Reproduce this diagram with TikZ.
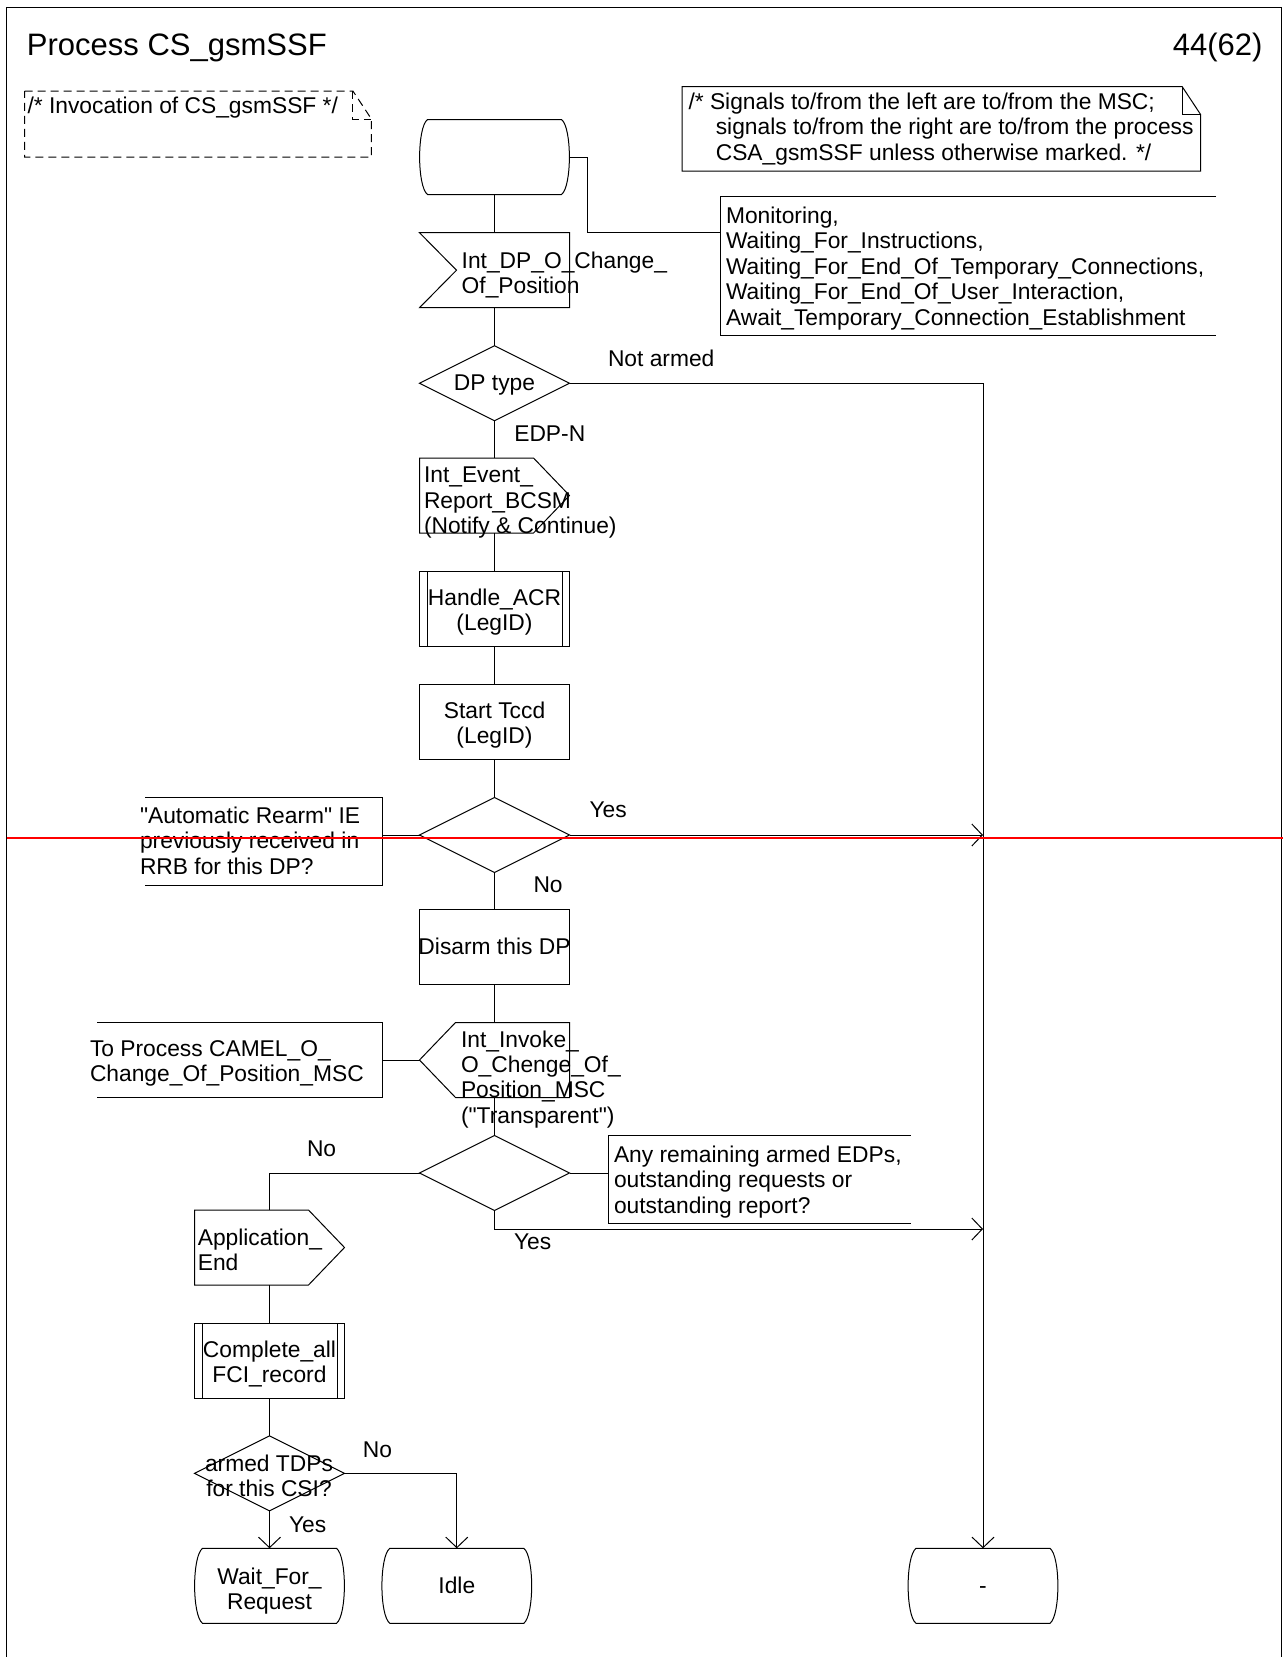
\documentclass[tikz,border=0pt]{standalone}
\usepackage{fontspec}
\setmainfont{Liberation Sans}[Ligatures=TeXOff]
\usetikzlibrary{shapes.geometric,arrows.meta,calc}
\newcommand\bodyfont{\fontsize{22.8pt}{25.4pt}\selectfont}
\newcommand\titlefont{\fontsize{31pt}{36pt}\selectfont}
\newcommand\fs{\rule{0pt}{18pt}}
\newcommand\sq{\char34\relax}
% SDL symbol outlines drawn round invisible rectangle nodes
\newcommand\SdlState[1]{\draw ($(#1.north west)+(8,0)$) -- ($(#1.north east)+(-8,0)$)
  .. controls ($(#1.north east)+(2.5,8)$) and ($(#1.south east)+(2.5,-8)$) .. ($(#1.south east)+(-8,0)$)
  -- ($(#1.south west)+(8,0)$)
  .. controls ($(#1.south west)+(-2.5,-8)$) and ($(#1.north west)+(-2.5,8)$) .. cycle;}
\newcommand\SdlInput[1]{\draw (#1.north west) -- (#1.north east) -- (#1.south east) -- (#1.south west) -- ($(#1.west)+(37,0)$) -- cycle;}
\newcommand\SdlOutR[1]{\draw (#1.north west) -- ($(#1.north east)+(-36,0)$) -- (#1.east) -- ($(#1.south east)+(-36,0)$) -- (#1.south west) -- cycle;}
\newcommand\SdlOutL[1]{\draw (#1.west) -- ($(#1.north west)+(36,0)$) -- (#1.north east) -- (#1.south east) -- ($(#1.south west)+(36,0)$) -- cycle;}
\newcommand\SdlProc[1]{\draw (#1.north west) rectangle (#1.south east);
  \draw ($(#1.north west)+(7.5,0)$) -- ($(#1.south west)+(7.5,0)$);
  \draw ($(#1.north east)+(-7.5,0)$) -- ($(#1.south east)+(-7.5,0)$);}
\newcommand\SdlCommR[1]{\draw (#1.north east) -- (#1.north west) -- (#1.south west) -- (#1.south east);}
\newcommand\SdlCommL[1]{\draw (#1.north west) -- (#1.north east) -- (#1.south east) -- (#1.south west);}
\newcommand\SdlNote[2]{\draw[#2] (#1.north west) -- ($(#1.north east)+(-18.5,0)$) -- ($(#1.north east)+(0,28)$) -- (#1.south east) -- (#1.south west) -- cycle;
  \draw[#2] ($(#1.north east)+(-18.5,0)$) -- ($(#1.north east)+(-18.5,28)$) -- ($(#1.north east)+(0,28)$);}
\begin{document}
\begin{tikzpicture}[x=1pt,y=-1pt,line width=1pt,
  sym/.style={rectangle,draw=none,inner sep=0,outer sep=0},
  box/.style={rectangle,draw,inner sep=0,outer sep=0,minimum width=150pt,minimum height=75pt},
  dia/.style={diamond,draw,aspect=2,inner sep=0,outer sep=0,minimum width=150pt,minimum height=75pt},
  tl/.style={inner sep=0,outer sep=0,font=\bodyfont,align=left,anchor=north west},
  tc/.style={inner sep=0,outer sep=0,font=\bodyfont,align=center,anchor=north},
  lb/.style={inner sep=0,outer sep=0,font=\bodyfont,anchor=base west},
  lbc/.style={inner sep=0,outer sep=0,font=\bodyfont,anchor=base},
  arr/.style={-{Straight Barb[length=10.5pt,width=22pt]}},
  notedash/.style={dash pattern=on 8pt off 5pt}]
\useasboundingbox (0,0) rectangle (1283,1657);
% frame
\draw[line width=1.2pt] (6.5,1665) -- (6.5,7.5) -- (1281.5,7.5) -- (1281.5,1665);
\node[inner sep=0,font=\titlefont,anchor=base west] (title) at (26.5,55.5) {Process CS\_gsmSSF};
\node[inner sep=0,font=\titlefont,anchor=base east] (page) at (1263,55.5) {44(62)};
% notes
\node[sym,minimum width=346.9pt,minimum height=66pt] (note1) at (197.95,124) {};
\SdlNote{note1}{notedash}
\node[tl] (t-note1) at (27.5,95) {\fs /* Invocation of CS\_gsmSSF */};
\node[sym,minimum width=518.6pt,minimum height=84.5pt] (note2) at (941.3,128.75) {};
\SdlNote{note2}{}
\node[tl] (t-note2) at (688.5,91.5) {\fs /* Signals to/from the left are to/from the MSC;\\\hspace*{27.3pt}signals to/from the right are to/from the process\\\hspace*{27.3pt}CSA\_gsmSSF unless otherwise marked. */};
% main column
\node[sym,minimum width=150pt,minimum height=75pt] (st0) at (494.5,157) {};
\SdlState{st0}
\node[sym,minimum width=496pt,minimum height=139pt] (mon) at (968,265.5) {};
\SdlCommR{mon}
\node[tl] (t-mon) at (726,205.5) {\fs Monitoring,\\Waiting\_For\_Instructions,\\Waiting\_For\_End\_Of\_Temporary\_Connections,\\Waiting\_For\_End\_Of\_User\_Interaction,\\Await\_Temporary\_Connection\_Establishment};
\node[sym,minimum width=150pt,minimum height=75pt] (in1) at (494.5,270.2) {};
\SdlInput{in1}
\node[tl] (t-in1) at (461.7,250.3) {\fs Int\_DP\_O\_Change\_\\Of\_Position};
\node[dia] (dp) at (494.5,383.2) {};
\node[lbc] (t-dp) at (494.5,390) {DP type};
\node[sym,minimum width=150pt,minimum height=75pt] (out1) at (494.5,495.5) {};
\SdlOutR{out1}
\node[tl] (t-out1) at (424,464.7) {\fs Int\_Event\_\\Report\_BCSM\\(Notify \& Continue)};
\node[sym,minimum width=150pt,minimum height=75pt] (acr) at (494.5,608.5) {};
\SdlProc{acr}
\node[tc] (t-acr) at (494.5,587) {\fs Handle\_ACR\\(LegID)};
\node[box] (tccd) at (494.5,721.5) {};
\node[tc] (t-tccd) at (494.5,700.3) {\fs Start Tccd\\(LegID)};
\node[dia] (d2) at (494.5,835) {};
\node[sym,minimum width=237.7pt,minimum height=87.5pt] (rearm) at (263.85,841.25) {};
\SdlCommL{rearm}
\node[tl] (t-rearm) at (140,805.5) {\fs \sq Automatic Rearm\sq{} IE\\previously received in\\RRB for this DP?};
\node[box] (dis) at (494.5,947) {};
\node[lbc] (t-dis) at (494.5,954) {Disarm this DP};
\node[sym,minimum width=150pt,minimum height=75pt] (inv) at (494.5,1060) {};
\SdlOutL{inv}
\node[tl] (t-inv) at (461,1029) {\fs Int\_Invoke\_\\O\_Chenge\_Of\_\\Position\_MSC\\(\sq Transparent\sq)};
\node[sym,minimum width=285.6pt,minimum height=75pt] (topr) at (239.8,1060) {};
\SdlCommL{topr}
\node[tl] (t-topr) at (90,1038) {\fs To Process CAMEL\_O\_\\Change\_Of\_Position\_MSC};
\node[dia] (d3) at (494.5,1173) {};
\node[sym,minimum width=302.5pt,minimum height=87.8pt] (any) at (759.45,1179.4) {};
\SdlCommR{any}
\node[tl] (t-any) at (614,1144.5) {\fs Any remaining armed EDPs,\\outstanding requests or\\outstanding report?};
% left column
\node[sym,minimum width=150pt,minimum height=75pt] (app) at (269.5,1247.5) {};
\SdlOutR{app}
\node[tl] (t-app) at (197.8,1227) {\fs Application\_\\End};
\node[sym,minimum width=150pt,minimum height=75pt] (fci) at (269.5,1360.5) {};
\SdlProc{fci}
\node[tc] (t-fci) at (269.5,1339.5) {\fs Complete\_all\\FCI\_record};
\node[dia] (d4) at (269.5,1473.3) {};
\node[tc] (t-d4) at (269,1453.5) {\fs armed TDPs\\for this CSI?};
% final states
\node[sym,minimum width=150pt,minimum height=75pt] (wait) at (269.5,1585.8) {};
\SdlState{wait}
\node[tc] (t-wait) at (269.5,1566) {\fs Wait\_For\_\\Request};
\node[sym,minimum width=150pt,minimum height=75pt] (idle) at (456.8,1585.8) {};
\SdlState{idle}
\node[lbc] (t-idle) at (456.8,1593.3) {Idle};
\node[sym,minimum width=150pt,minimum height=75pt] (dash) at (983,1585.8) {};
\SdlState{dash}
\node[lbc] (t-dash) at (983,1593) {-};
% connectors
\draw (st0.south) -- (in1.north);
\draw (st0.east) -- ++(18.3,0) |- (in1.north -| mon.west);
\draw (in1.south) -- (dp.north);
\draw[arr] (dp.east) -| (dash.north);
\draw (dp.south) -- (out1.north);
\draw (out1.south) -- (acr.north);
\draw (acr.south) -- (tccd.north);
\draw (tccd.south) -- (d2.north);
\draw (d2.west -| rearm.east) -- (d2.west);
\draw[arr] (d2.east) -- (d2.east -| dash.north);
\draw (d2.south) -- (dis.north);
\draw (dis.south) -- (inv.north);
\draw (topr.east) -- (inv.west);
\draw (inv.south) -- (d3.north);
\draw (d3.east) -- (d3.east -| any.west);
\draw (d3.west) -| (app.north);
\coordinate (j2) at (983,1229);
\draw[arr] (d3.south) |- (j2);
\draw (app.south) -- (fci.north);
\draw (fci.south) -- (d4.north);
\draw[arr] (d4.south) -- (wait.north);
\draw[arr] (d4.east) -| (idle.north);
% labels
\node[lb] (l-na) at (608,366) {Not armed};
\node[lb] (l-edp) at (514.3,441) {EDP-N};
\node[lb] (l-y2) at (589.5,817.3) {Yes};
\node[lb] (l-n2) at (533.5,892.6) {No};
\node[lb] (l-n3) at (307,1156.5) {No};
\node[lb] (l-y3) at (514,1249.5) {Yes};
\node[lb] (l-n4) at (362.8,1457) {No};
\node[lb] (l-y4) at (289,1532) {Yes};
% red marker line
\draw[red,line width=2pt] (6.5,837.7) -- (1283,837.7);
\end{tikzpicture}
\end{document}
